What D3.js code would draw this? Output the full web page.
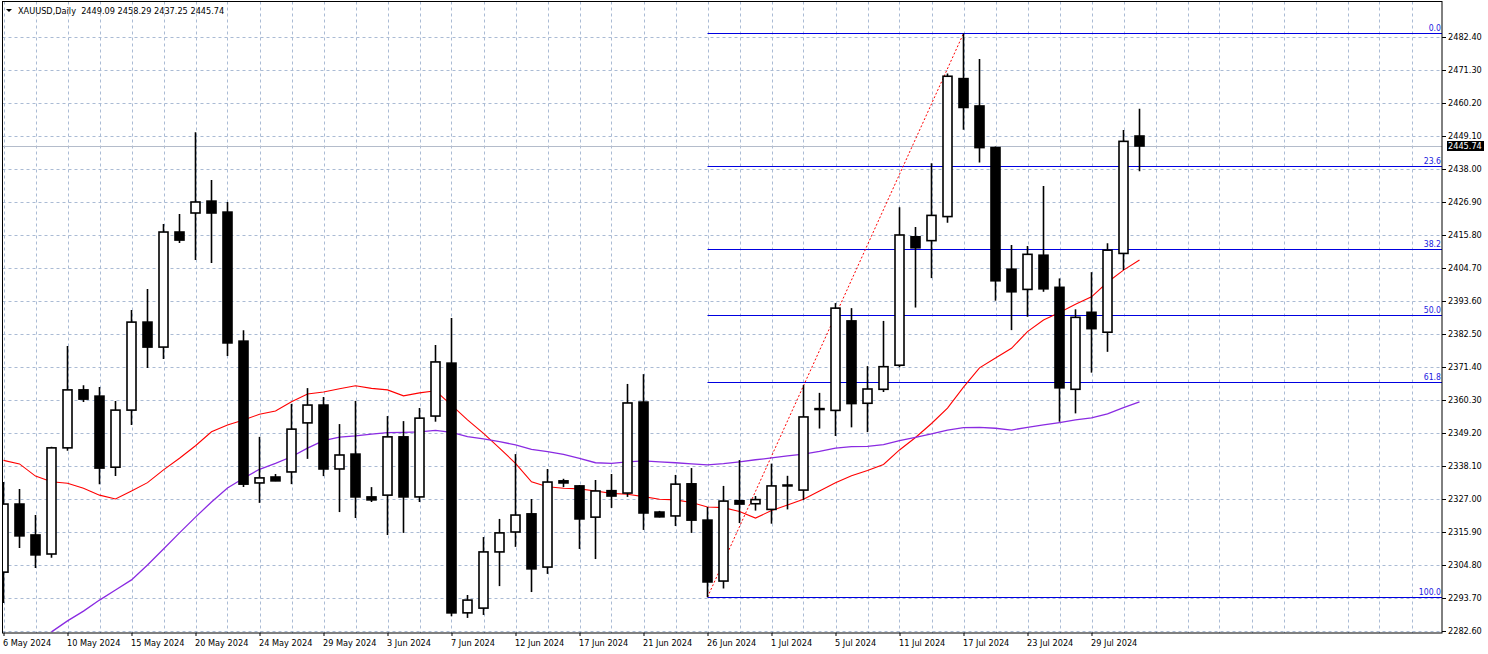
<!DOCTYPE html>
<html><head><meta charset="utf-8">
<script src="https://cdn.jsdelivr.net/npm/d3@7"></script>
<style>
html,body{margin:0;padding:0;background:#fff;}
svg{display:block;}
text{font-family:"DejaVu Sans Condensed","DejaVu Sans",sans-serif;font-size:9.1px;fill:#000;}
</style></head><body>
<svg id="c" width="1488" height="654"></svg>
<script>
// ---------------- DATA ----------------
const symbol = "XAUUSD,Daily";
const lastOHLC = [2449.09, 2458.29, 2437.25, 2445.74];

const open = [2302.4,2325.3,2314.9,2308.5,2344.2,2363.7,2361.6,2337.7,2356.9,2386.5,
  2378.1,2416.8,2423.2,2427.2,2423.5,2380.1,2332.4,2334.4,2336.1,2352.6,
  2358.6,2337.1,2342.1,2327.7,2328.3,2347.9,2327.7,2354.9,2372.7,2288.7,
  2290.3,2309.2,2315.9,2322.0,2304.1,2333.1,2331.4,2320.9,2329.8,2329.0,
  2359.6,2322.6,2321.3,2332.1,2319.9,2299.4,2326.4,2325.4,2323.5,2331.7,
  2330.0,2357.4,2356.8,2386.9,2359.2,2363.9,2372.0,2415.2,2413.9,2422.0,
  2468.4,2459.2,2445.2,2404.3,2397.5,2409.0,2398.2,2363.9,2389.8,2383.1,
  2409.6,2449.09];
const high = [2332.7,2330.4,2321.6,2344.6,2378.5,2365.3,2364.7,2360.0,2390.6,2397.6,
  2419.5,2422.9,2450.4,2434.3,2426.9,2383.8,2347.9,2335.4,2359.0,2364.3,
  2361.3,2352.2,2360.0,2331.0,2354.9,2353.2,2357.6,2378.8,2387.9,2294.7,
  2314.2,2320.3,2342.1,2327.0,2337.1,2333.8,2331.7,2333.4,2335.4,2365.7,
  2369.0,2323.0,2335.1,2337.4,2324.3,2331.4,2340.1,2328.0,2338.9,2334.8,
  2365.3,2362.7,2392.9,2391.2,2371.7,2386.9,2425.1,2418.5,2439.9,2470.1,
  2483.6,2475.0,2445.6,2412.4,2412.1,2432.3,2401.2,2390.8,2403.3,2413.0,
  2451.1,2458.29];
const low = [2292.0,2310.5,2303.8,2307.2,2343.2,2359.6,2332.0,2334.7,2351.9,2371.1,
  2374.1,2413.1,2407.4,2406.4,2375.1,2331.0,2325.7,2333.0,2332.0,2340.5,
  2334.7,2322.6,2320.6,2326.0,2314.9,2315.6,2326.0,2353.0,2287.6,2287.0,
  2288.0,2297.7,2310.9,2295.7,2301.8,2331.0,2310.2,2306.8,2324.0,2327.7,
  2316.6,2320.8,2317.9,2315.6,2294.0,2296.9,2318.9,2323.1,2318.7,2323.5,
  2326.7,2350.7,2348.2,2351.1,2349.5,2363.0,2371.3,2391.4,2401.3,2419.9,
  2451.2,2440.2,2393.7,2383.8,2388.3,2396.7,2353.0,2355.8,2369.5,2376.5,
  2404.0,2437.25];
const close = [2325.3,2314.6,2308.2,2344.2,2363.7,2360.6,2337.4,2356.9,2386.5,2378.1,
  2416.8,2414.1,2426.9,2423.2,2379.5,2332.0,2334.1,2333.1,2350.5,2358.6,
  2337.1,2341.8,2327.7,2326.7,2347.9,2327.7,2354.2,2373.1,2288.7,2293.0,
  2309.2,2315.6,2321.6,2303.5,2332.7,2332.4,2320.3,2329.7,2328.0,2359.3,
  2322.3,2321.0,2332.0,2319.9,2299.1,2326.3,2325.3,2326.8,2331.4,2331.4,
  2354.6,2357.1,2391.2,2359.1,2364.0,2371.5,2415.8,2411.5,2422.4,2469.2,
  2458.7,2445.2,2400.4,2396.7,2409.3,2397.7,2364.4,2388.1,2384.3,2410.7,
  2447.3,2445.74];

// moving averages (red = fast, purple = slow)
const maFast = [2340.0,2338.8,2334.7,2332.8,2332.3,2330.6,2328.3,2327.0,2329.7,2332.5,
  2336.8,2340.7,2344.9,2349.6,2351.9,2353.6,2355.5,2356.6,2359.7,2362.3,
  2363.0,2364.1,2365.1,2364.2,2363.7,2361.7,2362.7,2363.4,2358.6,2353.6,
  2349.1,2344.1,2339.0,2332.8,2331.1,2330.6,2330.4,2329.7,2328.9,2328.6,
  2327.8,2326.9,2326.7,2325.8,2324.3,2324.1,2322.8,2320.6,2323.1,2325.0,
  2326.9,2329.7,2332.5,2334.8,2336.6,2338.6,2343.5,2347.7,2352.4,2357.6,
  2364.6,2371.1,2374.4,2377.7,2383.3,2387.2,2389.7,2392.5,2395.0,2399.9,
  2404.0,2407.4];
const maSlow = [null,null,null,2282.3,2286.0,2289.3,2293.0,2296.4,2299.8,2304.8,
  2310.2,2315.6,2320.9,2326.0,2330.7,2334.0,2337.0,2339.0,2341.2,2344.1,
  2346.6,2347.8,2348.2,2348.8,2349.3,2349.4,2349.6,2350.1,2349.4,2348.0,
  2347.2,2346.3,2345.2,2343.7,2342.9,2342.0,2340.7,2339.2,2339.0,2339.5,
  2339.8,2339.5,2339.2,2338.8,2338.5,2338.9,2339.5,2340.2,2340.8,2341.5,
  2342.1,2343.0,2344.1,2344.6,2344.7,2345.3,2346.6,2347.7,2348.9,2350.2,
  2351.0,2351.1,2350.8,2350.2,2351.1,2351.9,2352.7,2353.6,2354.3,2355.6,
  2357.7,2359.7];

const priceTicks = [2282.60,2293.70,2304.80,2315.90,2327.00,2338.10,2349.20,2360.30,2371.40,
  2382.50,2393.60,2404.70,2415.80,2426.90,2438.00,2449.10,2460.20,2471.30,2482.40];
const dateLabels = ["6 May 2024","10 May 2024","15 May 2024","20 May 2024","24 May 2024",
  "29 May 2024","3 Jun 2024","7 Jun 2024","12 Jun 2024","17 Jun 2024","21 Jun 2024",
  "26 Jun 2024","1 Jul 2024","5 Jul 2024","11 Jul 2024","17 Jul 2024","23 Jul 2024","29 Jul 2024"];
const dateLabelEvery = 4;   // one date label every 4 bars
const fibLevels = [0, 23.6, 38.2, 50.0, 61.8, 100.0];
const fibLabels = ["0.0","23.6","38.2","50.0","61.8","100.0"];
const fibLowBar = 44, fibHighBar = 60;

// ---------------- LAYOUT ----------------
const L = 2.5, R = 1442, T = 1.5, B = 633;
const nBars = close.length;
const svg = d3.select("#c");

const x = d3.scaleLinear().domain([0, nBars - 1]).range([3.5, 3.5 + 16 * (nBars - 1)]);
const y = d3.scaleLinear().domain([priceTicks[0], priceTicks[priceTicks.length - 1]]).range([631, 37]);

svg.append("defs").append("clipPath").attr("id", "plot")
  .append("rect").attr("x", L).attr("y", T).attr("width", R - L).attr("height", B - T);

const g = svg.append("g").attr("clip-path", "url(#plot)");

// grid
const gridColor = "#aabbd4";
const lastGridBar = Math.floor((x.invert(R - 10)) / 2) * 2;
g.append("g").selectAll("line").data(d3.range(0, lastGridBar + 1, 2)).join("line")
  .attr("x1", d => Math.round(x(d)) + 0.5).attr("x2", d => Math.round(x(d)) + 0.5)
  .attr("y1", T).attr("y2", B)
  .attr("stroke", gridColor).attr("stroke-width", 1).attr("stroke-dasharray", "3,3");
g.append("g").selectAll("line").data(priceTicks).join("line")
  .attr("x1", L).attr("x2", R)
  .attr("y1", d => Math.round(y(d)) + 0.5).attr("y2", d => Math.round(y(d)) + 0.5)
  .attr("stroke", gridColor).attr("stroke-width", 1).attr("stroke-dasharray", "3,3");

// current price line
const lastClose = close[nBars - 1];
g.append("line").attr("x1", L).attr("x2", R)
  .attr("y1", Math.round(y(lastClose)) + 0.5).attr("y2", Math.round(y(lastClose)) + 0.5)
  .attr("stroke", "#b4bccb").attr("stroke-width", 1);

// fibonacci retracement
const fibHi = high[fibHighBar], fibLo = low[fibLowBar];
const fibPrice = r => fibHi - (r / 100) * (fibHi - fibLo);
g.append("g").selectAll("line").data(fibLevels).join("line")
  .attr("x1", x(fibLowBar)).attr("x2", R)
  .attr("y1", d => Math.round(y(fibPrice(d))) + 0.5).attr("y2", d => Math.round(y(fibPrice(d))) + 0.5)
  .attr("stroke", "#0000e0").attr("stroke-width", 1);
g.append("line")
  .attr("x1", x(fibLowBar)).attr("y1", y(fibLo))
  .attr("x2", x(fibHighBar)).attr("y2", y(fibHi))
  .attr("stroke", "#ff0000").attr("stroke-width", 1).attr("stroke-dasharray", "2,2");
svg.append("g").selectAll("text").data(fibLevels).join("text")
  .attr("x", R - 1).attr("y", d => y(fibPrice(d)) - 2)
  .attr("text-anchor", "end").style("fill", "#2020e0").style("font-size", "8.6px")
  .text((d, i) => fibLabels[i]);

// moving averages
const line = d3.line().defined(d => d != null).x((d, i) => x(i)).y(d => y(d));
g.append("path").datum(maFast).attr("d", line)
  .attr("fill", "none").attr("stroke", "#ff0000").attr("stroke-width", 1.1);
g.append("path").datum(maSlow).attr("d", line)
  .attr("fill", "none").attr("stroke", "#8a2be2").attr("stroke-width", 1.3);

// candles
const idx = d3.range(nBars);
const cg = g.append("g");
cg.selectAll("line").data(idx).join("line")
  .attr("x1", i => x(i)).attr("x2", i => x(i))
  .attr("y1", i => y(high[i])).attr("y2", i => y(low[i]))
  .attr("stroke", "#000").attr("stroke-width", 1.6);
cg.selectAll("rect").data(idx).join("rect")
  .attr("x", i => x(i) - 4.5).attr("width", 9)
  .attr("y", i => y(Math.max(open[i], close[i])))
  .attr("height", i => Math.abs(y(open[i]) - y(close[i])))
  .attr("fill", i => close[i] >= open[i] ? "#fff" : "#000")
  .attr("stroke", "#000").attr("stroke-width", 1.6);

// frame
svg.append("rect").attr("x", L).attr("y", T).attr("width", R - L).attr("height", B - T)
  .attr("fill", "none").attr("stroke", "#000").attr("stroke-width", 1);

// price axis
const ay = svg.append("g").attr("transform", `translate(${R},0)`)
  .call(d3.axisRight(y).tickValues(priceTicks).tickFormat(d3.format(".2f")).tickSize(4).tickPadding(2));
ay.select(".domain").remove();
ay.attr("font-family", null).attr("font-size", null);

// current price label
const cy = y(lastClose);
svg.append("rect").attr("x", R + 5).attr("y", cy - 5).attr("width", 37).attr("height", 10).attr("fill", "#000");
svg.append("text").attr("x", R + 6).attr("y", cy).attr("dy", "0.35em").style("fill", "#fff")
  .text(d3.format(".2f")(lastClose));

// time axis
const tickBars = dateLabels.map((d, i) => i * dateLabelEvery);
const ax = svg.append("g").attr("transform", `translate(0,${B})`)
  .call(d3.axisBottom(x).tickValues(tickBars).tickFormat((d, i) => dateLabels[i]).tickSize(3));
ax.select(".domain").remove();
ax.attr("font-family", null).attr("font-size", null);
ax.selectAll("text").attr("text-anchor", "start").attr("x", -1).attr("y", 13).attr("dy", 0);

// title
svg.append("path").attr("d", "M6,9 L12,9 L9,12 Z").attr("fill", "#000");
svg.append("text").attr("x", 18).attr("y", 13.5).attr("xml:space", "preserve").style("white-space", "pre")
  .text(symbol + "  " + lastOHLC.map(d3.format(".2f")).join(" "));
</script>
</body></html>
